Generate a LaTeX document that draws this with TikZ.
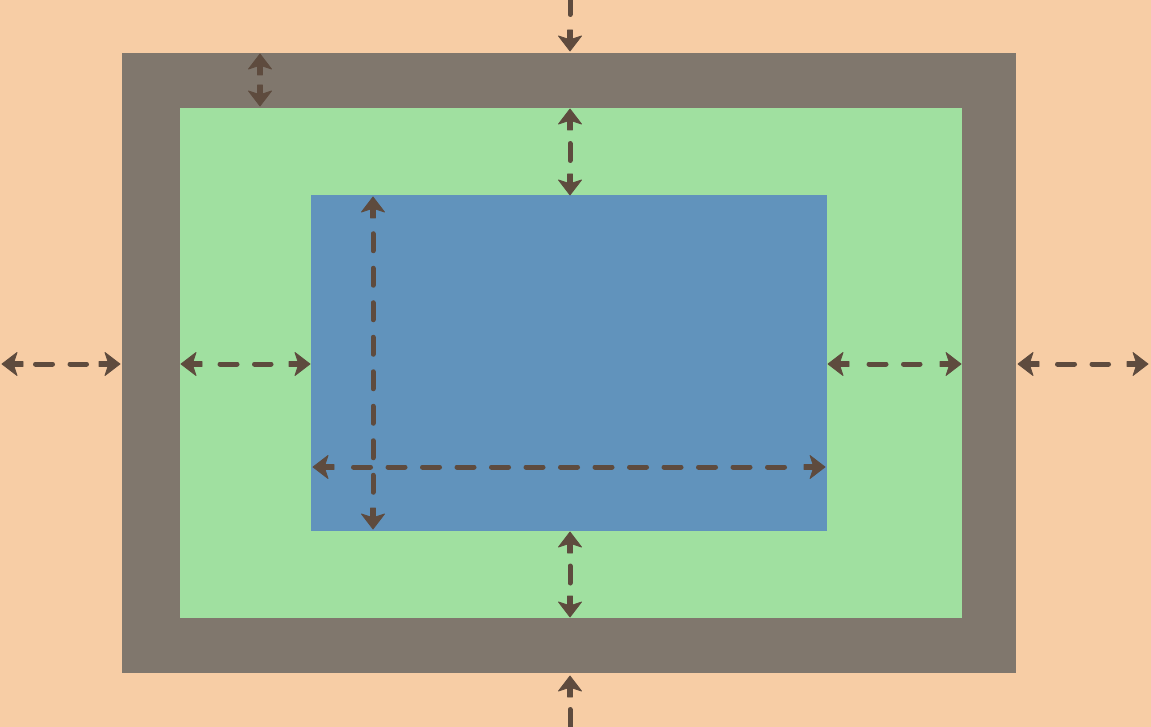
\documentclass[tikz,border=0pt]{standalone}
\usetikzlibrary{calc}
\definecolor{bgc}{RGB}{247,205,165}
\definecolor{borderc}{RGB}{128,119,109}
\definecolor{padc}{RGB}{160,224,160}
\definecolor{contc}{RGB}{97,147,188}
\definecolor{arrc}{RGB}{94,75,62}
\tikzset{
  shaft/.style={draw=arrc, line width=5pt, line cap=round, dash pattern=on 17pt off 17.5pt},
  solidshaft/.style={draw=arrc, line width=5pt, line cap=round},
  headfill/.style={fill=arrc, draw=arrc, line width=0.8pt, line join=round},
}
% arrow head with short stem, tip at #1, pointing in direction #2 (degrees)
\newcommand\ahead[2]{\filldraw[headfill, shift={(#1)}, rotate=#2]
  (0,0) -- (-15,11.5) -- (-12,2.5) -- (-21,2.5) -- (-21,-2.5) -- (-12,-2.5) -- (-15,-11.5) -- cycle;}
% dashed shaft between tips #1 and #2, dashes start #3 pt from each tip
\newcommand\dshaft[3]{\draw[shaft] ($(#1)!#3pt!(#2)$) -- ($(#2)!#3pt!(#1)$);}
\begin{document}
\begin{tikzpicture}[x=1pt,y=-1pt]
\useasboundingbox (0,0) rectangle (1151,727);
\fill[bgc] (0,0) rectangle (1151,727);
\fill[borderc] (122,53) rectangle (1016,673);
\fill[padc] (180,108) rectangle (962,618);
\fill[contc] (311,195) rectangle (827,531);
% coordinates
\coordinate (mt0) at (570,-10);  \coordinate (mt1) at (570,51);
\coordinate (mb0) at (570,740);  \coordinate (mb1) at (570,676);
\coordinate (ml0) at (2,364);    \coordinate (ml1) at (120,364);
\coordinate (mr0) at (1018,364); \coordinate (mr1) at (1148,364);
\coordinate (bt0) at (260,54);   \coordinate (bt1) at (260,106);
\coordinate (pt0) at (570,109);  \coordinate (pt1) at (570,195);
\coordinate (pb0) at (570,532);  \coordinate (pb1) at (570,617);
\coordinate (pl0) at (181,364);  \coordinate (pl1) at (310,364);
\coordinate (pr0) at (828,364);  \coordinate (pr1) at (961,364);
\coordinate (cv0) at (373,197);  \coordinate (cv1) at (373,529);
\coordinate (ch0) at (313,467);  \coordinate (ch1) at (825,467);
% margin top / bottom
\draw[solidshaft] (mt0) -- ($(mt1)!36.5pt!(mt0)$);
\ahead{mt1}{270}
\draw[solidshaft] ($(mb1)!33.5pt!(mb0)$) -- (mb0);
\ahead{mb1}{90}
% margin left / right
\dshaft{ml0}{ml1}{33.5}
\ahead{ml0}{180} \ahead{ml1}{0}
\dshaft{mr0}{mr1}{39.5}
\ahead{mr0}{180} \ahead{mr1}{0}
% border top
\ahead{bt0}{90} \ahead{bt1}{270}
% padding
\dshaft{pt0}{pt1}{34.5}
\ahead{pt0}{90} \ahead{pt1}{270}
\dshaft{pb0}{pb1}{34}
\ahead{pb0}{90} \ahead{pb1}{270}
\dshaft{pl0}{pl1}{39}
\ahead{pl0}{180} \ahead{pl1}{0}
\dshaft{pr0}{pr1}{41}
\ahead{pr0}{180} \ahead{pr1}{0}
% content
\dshaft{cv0}{cv1}{36.75}
\ahead{cv0}{90} \ahead{cv1}{270}
\dshaft{ch0}{ch1}{40.5}
\ahead{ch0}{180} \ahead{ch1}{0}
\end{tikzpicture}
\end{document}
